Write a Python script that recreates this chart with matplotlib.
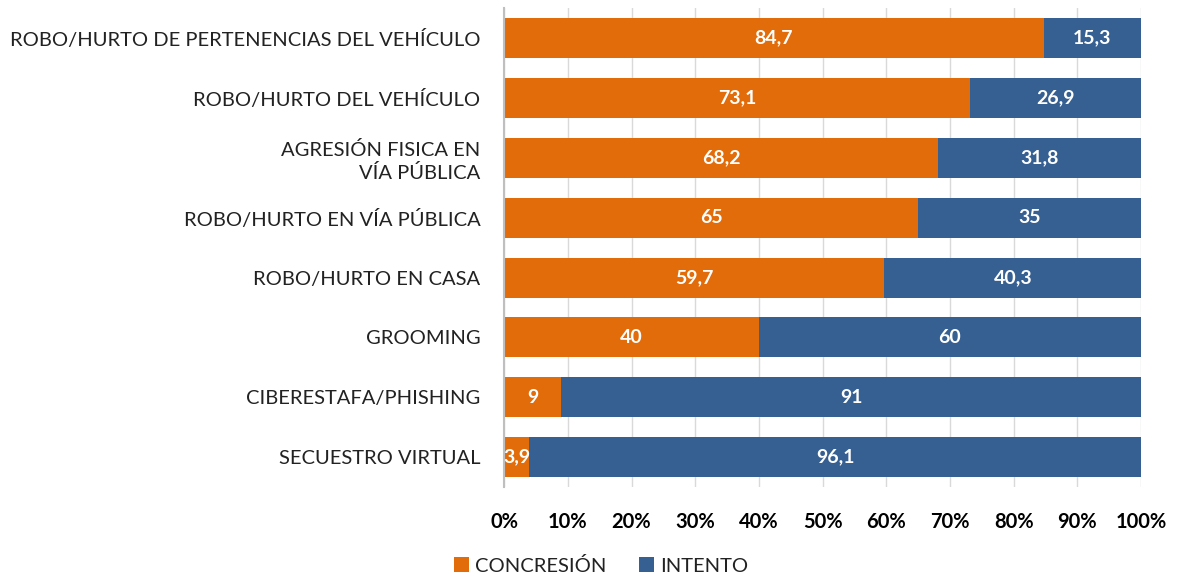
import matplotlib.pyplot as plt
import numpy as np

plt.rcParams['font.family'] = ['Lato', 'DejaVu Sans']

categories = ["ROBO/HURTO DE PERTENENCIAS DEL VEHÍCULO", "ROBO/HURTO DEL VEHÍCULO",
              "AGRESIÓN FISICA EN\nVÍA PÚBLICA", "ROBO/HURTO EN VÍA PÚBLICA",
              "ROBO/HURTO EN CASA", "GROOMING", "CIBERESTAFA/PHISHING", "SECUESTRO VIRTUAL"]
concrecion = [84.7, 73.1, 68.2, 65, 59.7, 40, 9, 3.9]
intento = [15.3, 26.9, 31.8, 35, 40.3, 60, 91, 96.1]
series_names = ["CONCRESIÓN", "INTENTO"]
colors = ["#E36C0A", "#376092"]

fig = plt.figure(figsize=(11.78, 5.84), dpi=100)
ax = fig.add_axes([0.428, 0.166, 0.5406, 0.820])

y = np.arange(len(categories))
b1 = ax.barh(y, concrecion, height=0.667, color=colors[0], label=series_names[0], zorder=2)
b2 = ax.barh(y, intento, left=concrecion, height=0.667, color=colors[1], label=series_names[1], zorder=2)

def fmt(v):
    return f"{v:g}".replace(".", ",")

for bars, vals, lefts in [(b1, concrecion, [0]*8), (b2, intento, concrecion)]:
    for yi, v, l in zip(y, vals, lefts):
        ax.text(l + v / 2, yi, fmt(v), ha="center", va="center", color="white",
                fontsize=14, fontweight="bold", zorder=3)

ax.set_xlim(0, 100)
ax.set_ylim(len(categories) - 0.5, -0.5)
ax.set_yticks(y)
ax.set_yticklabels(categories, fontsize=14.5, color="#222222", linespacing=1.3)
ax.set_xticks(np.arange(0, 101, 10))
ax.set_xticklabels([f"{t}%" for t in range(0, 101, 10)], fontsize=14.5, fontweight="bold")
ax.tick_params(axis="both", length=0)
ax.tick_params(axis="x", pad=18)
ax.tick_params(axis="y", pad=17)
ax.grid(axis="x", color="#D9D9D9", linewidth=1, zorder=0)
for s in ["top", "right", "bottom"]:
    ax.spines[s].set_visible(False)
ax.spines["left"].set_color("#BFBFBF")
ax.spines["left"].set_linewidth(1.5)
ax.spines["left"].set_zorder(4)

leg = fig.legend(handles=[b1, b2], labels=series_names, loc="lower center", ncol=2,
                 bbox_to_anchor=(0.51, -0.015), frameon=False, fontsize=14.5,
                 handlelength=0.75, handleheight=0.75, handletextpad=0.3, columnspacing=1.6)
for t in leg.get_texts():
    t.set_color("#222222")

plt.savefig("out.png", dpi=100)
